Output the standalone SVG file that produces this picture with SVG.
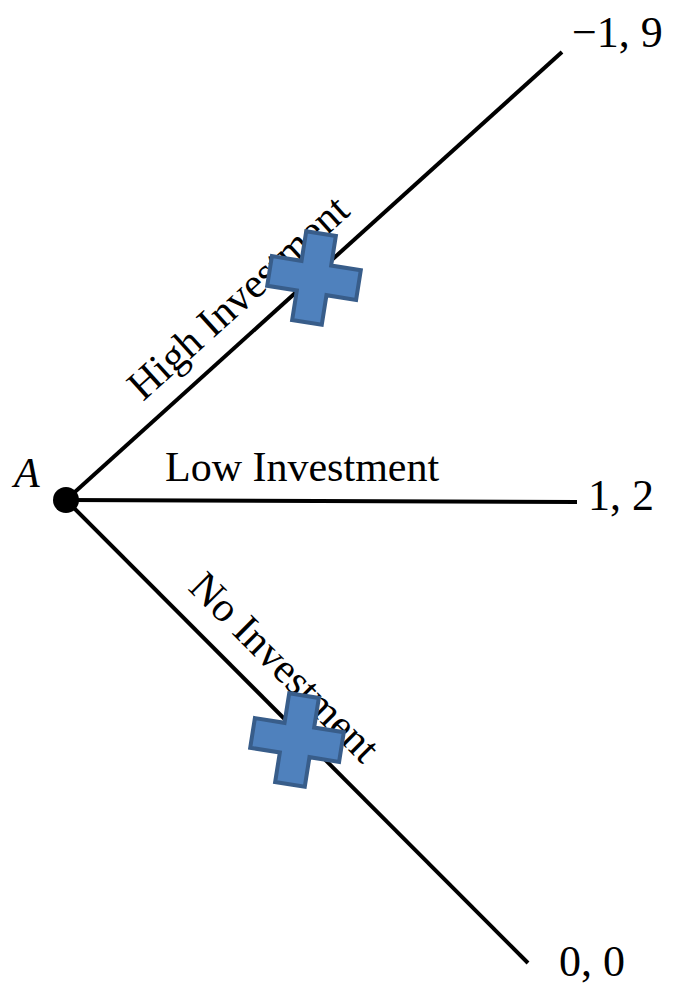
<svg xmlns="http://www.w3.org/2000/svg" width="676" height="985" viewBox="0 0 676 985">
<style>
.edge{stroke:#000;stroke-width:4;fill:none}
.lbl{font-family:"Liberation Serif","Times New Roman",serif;font-size:42px;fill:#000}
.num{font-family:"Liberation Serif","Times New Roman",serif;font-size:44px;fill:#000}
.cross{fill:#4F81BD;stroke:#385D8A;stroke-width:4;stroke-linejoin:miter}
</style>
<defs>
<path id="plus" d="M-15,-45 H15 V-15 H45 V15 H15 V45 H-15 V15 H-45 V-15 H-15 Z"/>
</defs>
<g id="connectors">
<line class="edge" x1="66" y1="500" x2="562" y2="52"/>
<line class="edge" x1="66" y1="500" x2="577" y2="502"/>
<line class="edge" x1="66" y1="500" x2="528" y2="963"/>
</g>
<g id="nodeA">
<circle cx="66" cy="500" r="13" fill="#000"/>
<text x="14" y="487" class="lbl" font-size="46" font-style="italic">A</text>
</g>
<g id="label-high">
<text class="lbl" transform="translate(143,402) rotate(-42.1)" font-size="44">High Investment</text>
</g>
<g id="label-low">
<text class="lbl" x="165" y="481">Low Investment</text>
</g>
<g id="label-no">
<text class="lbl" transform="translate(187,589) rotate(45)" font-size="44">No Investment</text>
</g>
<g id="payoff-high">
<text class="num" x="572" y="47">−1, 9</text>
</g>
<g id="payoff-low">
<text class="num" x="588" y="510">1, 2</text>
</g>
<g id="payoff-no">
<text class="num" x="559" y="976">0, 0</text>
</g>
<g id="cross-high">
<use href="#plus" class="cross" transform="translate(314,278) rotate(9)"/>
</g>
<g id="cross-no">
<use href="#plus" class="cross" transform="translate(297,740) rotate(9)"/>
</g>
</svg>
